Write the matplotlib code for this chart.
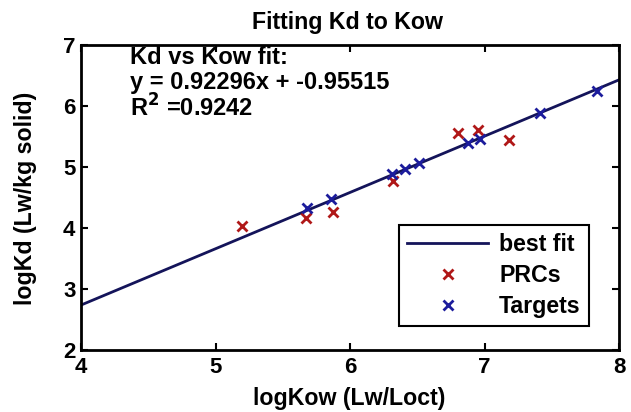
import matplotlib
matplotlib.use("Agg")
import matplotlib.pyplot as plt
import numpy as np

plt.rcParams['font.family'] = ['Liberation Sans', 'DejaVu Sans']
plt.rcParams['font.weight'] = 'bold'

slope = 0.92296
intercept = -0.95515
r2 = 0.9242

prc_x = [5.20, 5.67, 5.87, 6.32, 6.80, 6.95, 7.18]
prc_y = [4.03, 4.16, 4.26, 4.77, 5.56, 5.61, 5.44]
tgt_x = [5.68, 5.86, 6.31, 6.41, 6.51, 6.88, 6.97, 7.41, 7.84]
tgt_y = [4.33, 4.48, 4.89, 4.97, 5.07, 5.39, 5.46, 5.89, 6.25]

x_ticks = [4, 5, 6, 7, 8]
y_ticks = [2, 3, 4, 5, 6, 7]

W, H = 631, 412
fig = plt.figure(figsize=(W / 100, H / 100), dpi=100)
ax = fig.add_axes([81 / W, 1 - 350 / H, 538 / W, 305 / H])

fx = np.array([4, 8])
ax.plot(fx, slope * fx + intercept, color='#14145a', lw=2, label='best fit')
ax.plot(prc_x, prc_y, 'x', color='#b01818', ms=7, mew=2, label='PRCs')
ax.plot(tgt_x, tgt_y, 'x', color='#1c1c9c', ms=7, mew=2, label='Targets')

ax.set_xlim(4, 8)
ax.set_ylim(2, 7)
ax.set_xticks(x_ticks)
ax.set_yticks(y_ticks)
ax.tick_params(direction='in', length=5, width=1.5, top=True, right=True,
               labelsize=16)
ax.tick_params(axis='x', pad=5)
ax.tick_params(axis='y', pad=4)
for s in ax.spines.values():
    s.set_linewidth(2)
    s.set_color('black')

fig.text(347 / W, 1 - 23 / H, 'Fitting Kd to Kow', fontsize=16.7, fontweight='bold',
         ha='center', va='center')
fig.text(349 / W, 1 - 398 / H, 'logKow (Lw/Loct)', fontsize=16.7, fontweight='bold',
         ha='center', va='center')
fig.text(26 / W, 1 - 198 / H, 'logKd (Lw/kg solid)', fontsize=16.7, fontweight='bold',
         ha='center', va='center', rotation=90)

ann_lines = ['Kd vs Kow fit:', 'y = %.5fx + %.5f' % (slope, intercept),
             'R$^2$ =%.4f' % r2]
ann_y = [58, 83, 108]
for txt, yy in zip(ann_lines, ann_y):
    fig.text(130 / W, 1 - yy / H, txt, fontsize=17, fontweight='bold',
             ha='left', va='center')

leg = ax.legend(loc='lower right', bbox_to_anchor=(0.944, 0.079), borderaxespad=0,
                fontsize=16.7, frameon=True, fancybox=False, edgecolor='black',
                handlelength=3.5, borderpad=0.35, labelspacing=0.34,
                handletextpad=0.47, framealpha=1)
leg.get_frame().set_linewidth(1.5)
for t in leg.get_texts():
    t.set_fontweight('bold')

fig.savefig('out.png', dpi=100)
